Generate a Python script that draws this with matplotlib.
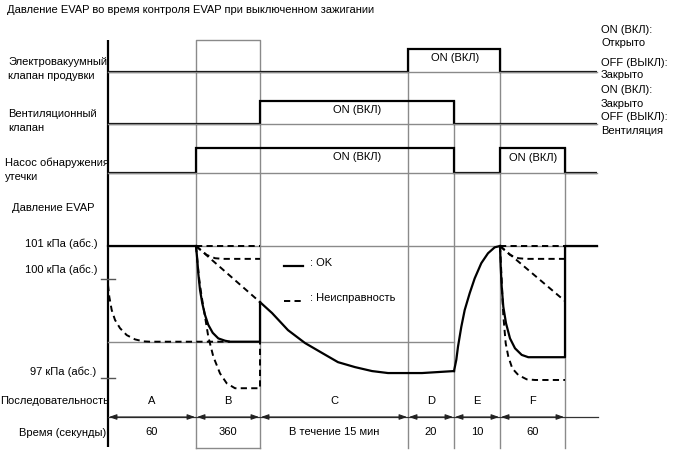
import matplotlib
matplotlib.use('Agg')
import matplotlib.pyplot as plt

plt.rcParams['font.family'] = ['Liberation Sans', 'DejaVu Sans']

W, H = 688, 463

# ---------------- data ----------------
title = "Давление EVAP во время контроля EVAP при выключенном зажигании"
sequence = ['A', 'B', 'C', 'D', 'E', 'F']
durations = ['60', '360', 'В течение 15 мин', '20', '10', '60']

# Signal states per segment: A, B, C, D, E, F, tail
purge_state = [0, 0, 0, 1, 1, 0, 0]
vent_state = [0, 0, 1, 1, 0, 0, 0]
pump_state = [0, 1, 1, 1, 0, 1, 0]

row_labels = [["Электровакуумный", "клапан продувки"],
              ["Вентиляционный", "клапан"],
              ["Насос обнаружения", "утечки"]]
right_labels = ["ON (ВКЛ):", "Открыто", "OFF (ВЫКЛ):", "Закрыто",
                "ON (ВКЛ):", "Закрыто", "OFF (ВЫКЛ):", "Вентиляция"]
on_label = "ON (ВКЛ)"

pressure_ticks = [101, 100, 97]
pressure_tick_labels = ["101 кПа (абс.)", "100 кПа (абс.)", "97 кПа (абс.)"]
ok_level = 98.1

# EVAP pressure traces (diagram x, kPa)
ok_A_x = [108, 196]
ok_A_p = [101, 101]
fault_A_x = [108, 109.3, 111.7, 115, 120, 126.7, 135, 143.3, 150, 230]
fault_A_p = [99.82, 99.46, 99.06, 98.76, 98.51, 98.3, 98.17, 98.11, 98.1, 98.1]
ok_B_x = [196, 197.3, 198.3, 200, 202.3, 205, 208.3, 212.7, 218.3, 225, 230, 260, 260]
ok_B_p = [101, 100.58, 100.17, 99.67, 99.26, 98.91, 98.61, 98.37, 98.2, 98.13, 98.1, 98.1, 99.3]
fault_B1_x = [196, 260]
fault_B1_p = [101, 101]
fault_B2_x = [196, 206.7, 215, 223, 260]
fault_B2_p = [101, 100.73, 100.63, 100.61, 100.61]
fault_B3_x = [196, 260]
fault_B3_p = [101, 99.3]
fault_B4_x = [196, 197.5, 199.3, 201.7, 205, 208.3, 213.3, 220, 226.7, 235, 260, 260]
fault_B4_p = [101, 100.5, 99.97, 99.46, 98.86, 98.25, 97.65, 97.14, 96.84, 96.69, 96.69, 98.1]
ok_C_x = [260, 272, 288, 305, 322, 338, 355, 372, 388, 405, 422, 438, 454]
ok_C_p = [99.3, 98.97, 98.45, 98.06, 97.76, 97.48, 97.33, 97.21, 97.15, 97.15, 97.15, 97.18, 97.21]
ok_E_x = [454, 456.3, 458, 461.3, 464.7, 469.7, 474.7, 481.3, 488, 494.7, 500]
ok_E_p = [97.21, 97.55, 97.95, 98.55, 99.06, 99.57, 100.02, 100.48, 100.78, 100.96, 101]
ok_F_x = [500, 500.7, 501.7, 503.3, 506, 510, 515, 521.7, 528.3, 565, 565, 597]
ok_F_p = [101, 100.37, 99.77, 99.16, 98.66, 98.2, 97.9, 97.7, 97.63, 97.63, 101, 101]
fault_F1_x = [500, 565]
fault_F1_p = [101, 101]
fault_F2_x = [500, 510, 518.3, 526, 565]
fault_F2_p = [101, 100.73, 100.63, 100.61, 100.61]
fault_F3_x = [500, 565]
fault_F3_p = [101, 99.33]
fault_F4_x = [500, 501.7, 502.5, 503.3, 505.7, 508.3, 512.3, 518.3, 526.7, 535, 565]
fault_F4_p = [101, 99.97, 99.4, 98.9, 98.05, 97.65, 97.29, 97.09, 96.96, 96.94, 96.94]

# ---------------- layout ----------------
edges = [108, 196, 260, 408, 454, 500, 565, 597]
GRAY = '#8a8a8a'
FS = 8

fig = plt.figure(figsize=(W / 100, H / 100), dpi=100)
ax = fig.add_axes([0, 0, 1, 1])
ax.set_xlim(0, W)
ax.set_ylim(H, 0)
ax.axis('off')


def overlay(y_top, y_bot, v_top, v_bot):
    a = fig.add_axes([0, 1 - y_bot / H, 1, (y_bot - y_top) / H])
    a.set_xlim(0, W)
    a.set_ylim(v_bot, v_top)
    a.axis('off')
    a.patch.set_alpha(0)
    return a


ax.text(7, 10, title, fontsize=FS, ha='left', va='center')

# main axis line
ax.plot([108, 108], [40, 447], color='black', lw=1.6, solid_capstyle='butt')
# box around B
ax.plot([196, 196, 260, 260], [448, 40, 40, 448], color=GRAY, lw=1)
ax.plot([196, 260], [448, 448], color=GRAY, lw=1)
# boundary lines
for x, ytop in zip([408, 454, 500, 565], [49, 101, 49, 148]):
    ax.plot([x, x], [ytop, 448], color=GRAY, lw=1)

# signal rows
rows = [(purge_state, 49, 72), (vent_state, 101, 124), (pump_state, 148, 173)]
label_x = [8, 8, 5]
for (states, ytop, ybot), labels, lx in zip(rows, row_labels, label_x):
    ra = overlay(ytop, ybot, 1, 0)
    ra.plot([edges[0], edges[-1]], [0, 0], color=GRAY, lw=1, clip_on=False)
    ra.stairs(states, edges, baseline=None, color='black', lw=1.6, clip_on=False)
    ax.text(lx, ybot - 10, labels[0], fontsize=FS, ha='left', va='center')
    ax.text(lx, ybot + 4, labels[1], fontsize=FS, ha='left', va='center')

# ON labels
ax.text(455, 58, on_label, fontsize=FS, ha='center', va='center')
ax.text(357, 110, on_label, fontsize=FS, ha='center', va='center')
ax.text(357, 157, on_label, fontsize=FS, ha='center', va='center')
ax.text(533, 158, on_label, fontsize=FS, ha='center', va='center')

for lbl, y in zip(right_labels, [30, 43, 63, 75, 90, 104, 117, 131]):
    ax.text(601, y, lbl, fontsize=FS, ha='left', va='center')

# pressure section
pa = overlay(246, 378, 101, 97)
pa.plot([108, 597], [101, 101], color=GRAY, lw=1, clip_on=False)
pa.plot([108, 454], [ok_level, ok_level], color=GRAY, lw=1, clip_on=False)
for v in pressure_ticks[1:]:
    pa.plot([101, 115], [v, v], color='#555555', lw=1, clip_on=False)

solid = dict(color='black', lw=1.6, clip_on=False, solid_joinstyle='round')
dashed = dict(color='black', lw=1.4, ls=(0, (3.2, 2.2)), clip_on=False)
pa.plot(ok_A_x, ok_A_p, **solid)
pa.plot(fault_A_x, fault_A_p, **dashed)
for fx, fp in [(fault_B1_x, fault_B1_p), (fault_B2_x, fault_B2_p),
               (fault_B3_x, fault_B3_p), (fault_B4_x, fault_B4_p),
               (fault_F1_x, fault_F1_p), (fault_F2_x, fault_F2_p),
               (fault_F3_x, fault_F3_p), (fault_F4_x, fault_F4_p)]:
    pa.plot(fx, fp, **dashed)
for ox, op in [(ok_B_x, ok_B_p), (ok_C_x, ok_C_p), (ok_E_x, ok_E_p), (ok_F_x, ok_F_p)]:
    pa.plot(ox, op, **solid)

ax.text(12, 208, "Давление EVAP", fontsize=FS, ha='left', va='center')
for lbl, x, y in zip(pressure_tick_labels, [25, 25, 30], [244, 270, 372]):
    ax.text(x, y, lbl, fontsize=FS, ha='left', va='center')

# legend
ax.plot([284, 303], [266, 266], color='black', lw=1.6)
ax.text(310, 263, ": OK", fontsize=FS, ha='left', va='center')
ax.plot([284, 303], [301, 301], color='black', lw=1.4, ls=(0, (3.2, 2.2)))
ax.text(310, 298, ": Неисправность", fontsize=FS, ha='left', va='center')

# sequence and time rows
ax.text(0, 401, "Последовательность", fontsize=FS, ha='left', va='center')
ax.text(106, 433, "Время (секунды)", fontsize=FS, ha='right', va='center')
ax.plot([108, 598], [417, 417], color='#333333', lw=0.9)
for i, (s, d) in enumerate(zip(sequence, durations)):
    x0, x1 = edges[i], edges[i + 1]
    xc = (x0 + x1) / 2
    ax.text(xc, 401, s, fontsize=FS, ha='center', va='center')
    ax.text(xc, 432, d, fontsize=FS, ha='center', va='center')
    ax.annotate('', xy=(x0 + 1, 417), xytext=(x1 - 1, 417),
                arrowprops=dict(arrowstyle='<|-|>,head_length=0.45,head_width=0.16',
                                color='#222222', lw=0.8, shrinkA=0, shrinkB=0,
                                mutation_scale=10))

fig.savefig('out.png', dpi=100)
